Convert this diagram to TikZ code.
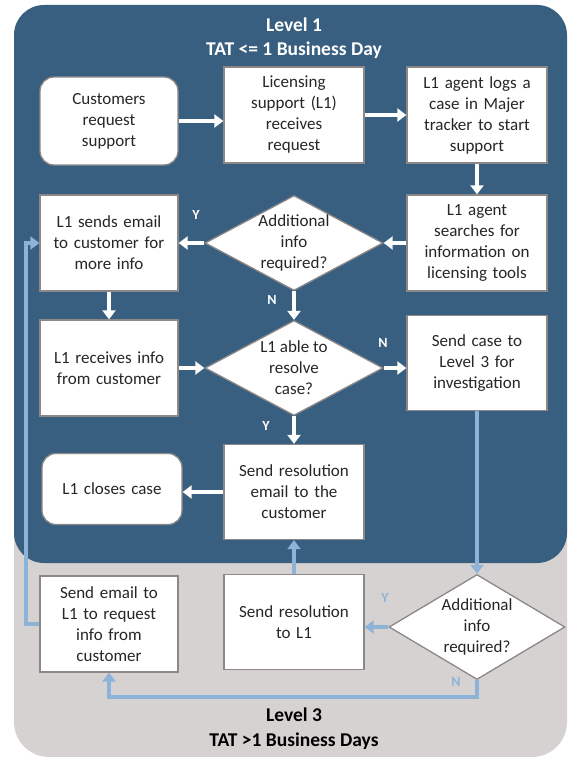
\documentclass[tikz,border=0pt]{standalone}
\usepackage{fontspec}
\setmainfont{Carlito}
\usetikzlibrary{shapes.geometric, arrows.meta, positioning}
\definecolor{lvlblue}{RGB}{56,94,128}
\definecolor{lvlgray}{RGB}{214,210,209}
\definecolor{boxgray}{RGB}{140,136,136}
\definecolor{lineblue}{RGB}{141,180,216}
\definecolor{txtdark}{RGB}{38,38,38}

\begin{document}
\begin{tikzpicture}[x=1pt,y=-1pt]
    \tikzstyle{stepbox}=[draw=boxgray,fill=white,line width=1.3pt,minimum width=140pt,minimum height=96pt,
        text width=130pt,align=center,inner sep=0pt,font=\fontsize{17}{21}\selectfont,text=txtdark]
    \tikzstyle{endbox}=[stepbox,rounded corners=14pt]
    \tikzstyle{askbox}=[diamond,draw=boxgray,fill=white,line width=1.3pt,minimum width=178pt,minimum height=95pt,
        inner sep=-16pt,align=center,font=\fontsize{17}{21}\selectfont,text=txtdark]
    \tikzstyle{wflow}=[white,line width=3.8pt,-{Triangle[width=13pt,length=9pt]}]
    \tikzstyle{bflow}=[wflow,lineblue]
    \tikzstyle{yn}=[font=\bfseries\fontsize{14}{16}\selectfont,white]
    \tikzstyle{lvltitle}=[font=\bfseries\fontsize{19.5}{24}\selectfont]

    \useasboundingbox (0,0) rectangle (568,757);

    % the two levels
    \fill[lvlgray,rounded corners=35pt] (14,400) rectangle (567,757);
    \fill[lvlblue,rounded corners=30pt] (14,5) rectangle (567,563);

    \node (lvl1) [lvltitle,white] at (294,25) {Level 1};
    \node (tat1) [lvltitle,white] at (294,50) {TAT <= 1 Business Day};
    \node (lvl3) [lvltitle,black] at (294,715) {Level 3};
    \node (tat3) [lvltitle,black] at (294,741) {TAT >1 Business Days};

    % level 1
    \node (cust) [endbox,minimum width=138pt,minimum height=88pt] at (109,121) {Customers\\request\\support};
    \node (recv) [stepbox] at (294,115) {Licensing\\support (L1)\\receives\\request};
    \node (logc) [stepbox] at (477,115) {L1 agent logs a\\case in Majer\\tracker to start\\support};
    \node (srch) [stepbox] at (477,243) {L1 agent\\searches for\\information on\\licensing tools};
    \node (addq) [askbox] at (294,243) {Additional\\info\\required?};
    \node (mail) [stepbox,minimum width=138pt] at (109,243) {L1 sends email\\to customer for\\more info};
    \node (info) [stepbox,minimum width=138pt] at (109,368) {L1 receives info\\from customer};
    \node (able) [askbox] at (294,368) {L1 able to\\resolve\\case?};
    \node (esc) [stepbox,minimum height=95pt] at (477,363) {Send case to\\Level 3 for\\investigation};
    \node (res) [stepbox,minimum height=95pt] at (294,492) {Send resolution\\email to the\\customer};
    \node (close) [endbox,minimum height=71pt] at (112,489) {L1 closes case};

    % level 3
    \node (l3mail) [stepbox,minimum width=138pt] at (109,624) {Send email to\\L1 to request\\info from\\customer};
    \node (l3res) [stepbox,minimum height=95pt] at (294,622) {Send resolution\\to L1};
    \node (l3q) [askbox,minimum width=176pt,minimum height=105pt] at (477,627) {Additional\\info\\required?};

    \draw[wflow] (cust.east) -- (cust.east -| recv.west);
    \draw[wflow] (recv) -- (logc);
    \draw[wflow] (logc) -- (srch);
    \draw[wflow] (srch) -- (addq);
    \draw[wflow] (addq) -- (mail);
    \draw[wflow] (addq) -- (able);
    \draw[wflow] (mail) -- (info);
    \draw[wflow] (info) -- (able);
    \draw[wflow] (able.east) -- (able.east -| esc.west);
    \draw[wflow] (able) -- (res);
    \draw[wflow] (res.west) -- (res.west -| close.east);

    \draw[bflow] (esc) -- (l3q);
    \draw[bflow] (l3q.west) -- (l3q.west -| l3res.east);
    \draw[bflow] (l3res) -- (res);
    \draw[bflow] (l3q.south) -- ++(0,17) -| (l3mail.south);
    \draw[bflow] (l3mail.west) -- ++(-13,0) |- (mail.west);

    \node (y1) [yn] at (196,215) {Y};
    \node (n1) [yn] at (272,300) {N};
    \node (n2) [yn] at (383,343) {N};
    \node (y2) [yn] at (266,426) {Y};
    \node (y3) [yn,lineblue] at (385,598) {Y};
    \node (n3) [yn,lineblue] at (456,682) {N};
\end{tikzpicture}
\end{document}
